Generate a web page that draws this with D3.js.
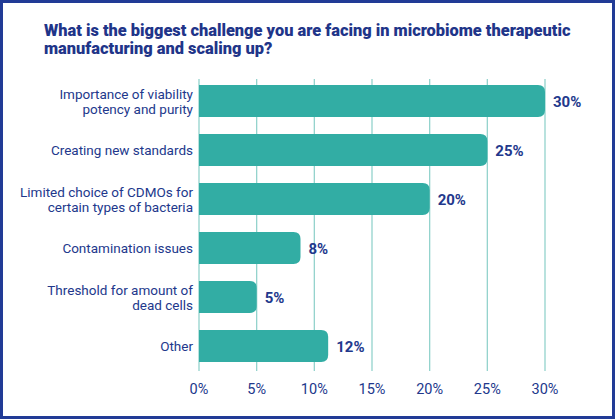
<!DOCTYPE html>
<html>
<head>
<meta charset="utf-8">
<script src="https://cdn.jsdelivr.net/npm/d3@7"></script>
<style>
  html, body { margin: 0; padding: 0; background: #fff; }
  svg { display: block; }
</style>
</head>
<body>
<svg id="chart" width="615" height="419"></svg>
<script>
const titleLines = [
  "What is the biggest challenge you are facing in microbiome therapeutic",
  "manufacturing and scaling up?"
];
const categories = [
  "Importance of viability\npotency and purity",
  "Creating new standards",
  "Limited choice of CDMOs for\ncertain types of bacteria",
  "Contamination issues",
  "Threshold for amount of\ndead cells",
  "Other"
];
const values = [30, 25, 20, 8.8, 5, 11.2];
const valueLabels = ["30%", "25%", "20%", "8%", "5%", "12%"];
const tickValues = [0, 5, 10, 15, 20, 25, 30];
const tickLabels = ["0%", "5%", "10%", "15%", "20%", "25%", "30%"];

const W = 615, H = 419;
const navy = "#22388c";
const teal = "#32ada4";
const gridColor = "#93d3cd";
const frameColor = "#213b96";

const svg = d3.select("#chart");

// frame
svg.append("rect")
  .attr("x", 1.5).attr("y", 1.5)
  .attr("width", W - 3).attr("height", H - 3)
  .attr("fill", "#fff")
  .attr("stroke", frameColor)
  .attr("stroke-width", 3);

// title
const tg = svg.append("g");
const tText = tg.selectAll("text").data(titleLines).join("text")
  .attr("x", 0)
  .attr("y", (d, i) => 36 + i * 18.5)
  .attr("font-family", "Roboto, 'Noto Sans', sans-serif")
  .attr("font-weight", 900)
  .attr("font-size", 17)
  .attr("fill", "#1f3589")
  .text(d => d);
const natural = tText.nodes()[0].getComputedTextLength();
const k = 527 / natural;
tg.attr("transform", `translate(44,0) scale(${k},1)`);

// scales
const x = d3.scaleLinear().domain([0, 30]).range([199, 545]);
const y = d3.scaleBand()
  .domain(categories)
  .range([76.5, 370.5])
  .paddingInner(0.35)
  .paddingOuter(0.175);

// gridlines
svg.append("g").selectAll("line").data(tickValues).join("line")
  .attr("x1", d => x(d)).attr("x2", d => x(d))
  .attr("y1", 79).attr("y2", 371)
  .attr("stroke", gridColor)
  .attr("stroke-width", 1.3);

// bars with rounded right corners
function barPath(x0, x1, y0, h, r) {
  r = Math.min(r, (x1 - x0), h / 2);
  return `M${x0},${y0}H${x1 - r}Q${x1},${y0} ${x1},${y0 + r}V${y0 + h - r}Q${x1},${y0 + h} ${x1 - r},${y0 + h}H${x0}Z`;
}
svg.append("g").selectAll("path").data(categories).join("path")
  .attr("d", (c, i) => barPath(x(0), x(values[i]), y(c), y.bandwidth(), 7))
  .attr("fill", teal);

// category labels
const lab = svg.append("g").selectAll("text").data(categories).join("text")
  .attr("text-anchor", "end")
  .attr("font-family", "Roboto, 'Noto Sans', sans-serif")
  .attr("font-size", 13.5)
  .attr("fill", navy);
lab.each(function (c) {
  const lines = c.split("\n");
  const cy = y(c) + y.bandwidth() / 2;
  d3.select(this).selectAll("tspan").data(lines).join("tspan")
    .attr("x", 193)
    .attr("y", (d, j) => cy + (j - (lines.length - 1) / 2) * 15 + 5)
    .text(d => d);
});

// value labels
svg.append("g").selectAll("text").data(categories).join("text")
  .attr("x", (c, i) => x(values[i]) + 8)
  .attr("y", c => y(c) + y.bandwidth() / 2 + 6)
  .attr("font-family", "Roboto, 'Noto Sans', sans-serif")
  .attr("font-weight", 700)
  .attr("font-size", 15)
  .attr("fill", navy)
  .text((c, i) => valueLabels[i]);

// x axis tick labels
svg.append("g").selectAll("text").data(tickValues).join("text")
  .attr("x", d => x(d))
  .attr("y", 394)
  .attr("text-anchor", "middle")
  .attr("font-family", "Roboto, 'Noto Sans', sans-serif")
  .attr("font-size", 14.5)
  .attr("fill", navy)
  .text((d, i) => tickLabels[i]);
</script>
</body>
</html>
